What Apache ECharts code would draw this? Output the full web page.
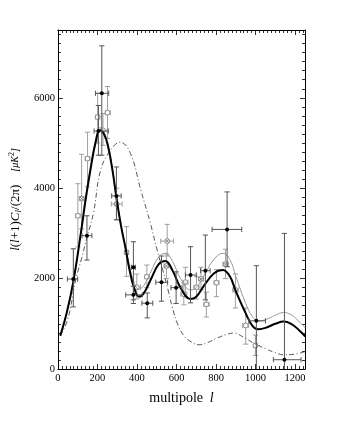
<!DOCTYPE html>
<html><head><meta charset="utf-8">
<script src="https://cdn.jsdelivr.net/npm/echarts@6/dist/echarts.min.js"></script>
<style>html,body{margin:0;padding:0;background:#fff}#c{width:346px;height:448px}</style>
</head><body><div id="c"></div>
<script>
// model curves: [multipole l, value]
const thickCurve = [[12,735],[45,1250],[78,1933],[116,3000],[142,3800],[167,4470],[190,5000],[212,5280],[235,5180],[255,4900],[276,4400],[298,3735],[320,3150],[344,2630],[362,2200],[385,1800],[410,1600],[435,1680],[470,1980],[510,2320],[544,2390],[580,2180],[620,1800],[670,1550],[700,1600],[740,1850],[790,2120],[835,2190],[870,2050],[900,1720],[950,1230],[985,950],[1015,880],[1050,910],[1100,1000],[1142,1050],[1180,1000],[1220,860],[1252,720]];
const thinCurve = [[12,735],[45,1250],[78,1950],[116,3030],[142,3850],[167,4520],[190,5060],[212,5340],[235,5230],[255,4950],[276,4430],[298,3760],[320,3180],[344,2680],[362,2280],[385,1920],[410,1760],[435,1850],[470,2150],[510,2480],[544,2560],[580,2380],[620,2000],[670,1750],[700,1800],[740,2080],[790,2430],[835,2560],[870,2420],[900,2050],[950,1450],[985,1150],[1015,1060],[1050,1090],[1100,1190],[1142,1250],[1180,1200],[1220,1050],[1252,905]];
const dashCurve = [[12,735],[50,1100],[90,1970],[120,2450],[148,2930],[180,3450],[216,4400],[266,4840],[315,5020],[367,4770],[418,3980],[468,3220],[502,2630],[530,2200],[560,1700],[578,1380],[605,1000],[640,720],[675,600],[713,536],[760,590],[805,683],[850,760],[890,795],[940,700],[990,573],[1050,450],[1100,360],[1142,315],[1200,330],[1252,388]];
// data points: [l, value, lLow, lHigh, vLow, vHigh]
const blackPoints = [[78,1990,48,100,1375,2660],[147,2950,122,172,2410,3390],[205,5264,183,255,4730,5830],[222,6100,190,257,4730,7150],[296,3830,272,320,3300,4470],[382,2250,372,392,1530,2815],[382,1640,343,427,1450,1830],[452,1456,425,480,1131,1683],[524,1919,495,555,1500,2500],[598,1800,572,628,1450,2150],[671,2080,645,700,1463,2705],[746,2176,722,770,1530,2963],[856,3088,780,930,2263,3918],[1004,1066,966,1050,0,2285],[1146,205,1090,1230,0,3000]];
const grayPoints = [[101,3390,90,112,2700,4100],[150,4655,138,162,4030,5240],[201,5573,190,212,5000,6100],[228,5280,205,250,4950,5650],[251,5670,240,265,5100,6250],[347,2580,337,357,2050,3150],[399,1810,382,418,1550,2100],[450,2040,440,462,1800,2300],[645,1920,632,658,1600,2250],[637,1654,622,652,1420,1900],[701,1808,688,714,1550,2050],[751,1430,738,765,1150,1700],[802,1910,790,815,1600,2200],[898,1749,885,912,1350,2100],[950,962,935,965,550,1350],[999,521,990,1010,300,750]];
const crossPoints = [[120,3770,108,132,3100,4750],[297,3650,270,325,3300,4000],[553,2830,520,585,2500,3200],[549,2280,537,562,2000,2550],[724,1992,712,737,1750,2250],[848,2320,835,862,2000,2650]];
const xTicks = [0,200,400,600,800,1000,1200];
const yTicks = [0,2000,4000,6000];

const FONT = 'Liberation Serif';
const chart = echarts.init(document.getElementById('c'), null, {renderer:'canvas'});

function errRender(kind){
  return function(params, api){
    const x=api.value(0), y=api.value(1), xl=api.value(2), xh=api.value(3), yl=api.value(4), yh=api.value(5);
    const c=api.coord([x,y]), lo=api.coord([x,yl]), hi=api.coord([x,yh]), L=api.coord([xl,y]), R=api.coord([xh,y]);
    const col = kind==='black' ? '#555' : '#a0a0a0';
    const st = {stroke:col, lineWidth:1};
    const cap=2.6;
    const ch=[
      {type:'line',shape:{x1:lo[0],y1:lo[1],x2:hi[0],y2:hi[1]},style:st},
      {type:'line',shape:{x1:hi[0]-cap,y1:hi[1],x2:hi[0]+cap,y2:hi[1]},style:st},
      {type:'line',shape:{x1:L[0],y1:L[1],x2:R[0],y2:R[1]},style:st},
      {type:'line',shape:{x1:L[0],y1:L[1]-cap,x2:L[0],y2:L[1]+cap},style:st},
      {type:'line',shape:{x1:R[0],y1:R[1]-cap,x2:R[0],y2:R[1]+cap},style:st}
    ];
    if (yl>0) ch.push({type:'line',shape:{x1:lo[0]-cap,y1:lo[1],x2:lo[0]+cap,y2:lo[1]},style:st});
    if (kind==='black') {
      ch.push({type:'circle',shape:{cx:c[0],cy:c[1],r:2},style:{fill:'#000'}});
    } else {
      ch.push({type:'circle',shape:{cx:c[0],cy:c[1],r:2.4},style:{fill:'#fff',stroke:'#888',lineWidth:1}});
      if (kind==='cross') {
        const d=1.7;
        ch.push({type:'line',shape:{x1:c[0]-d,y1:c[1]-d,x2:c[0]+d,y2:c[1]+d},style:{stroke:'#777',lineWidth:0.9}});
        ch.push({type:'line',shape:{x1:c[0]-d,y1:c[1]+d,x2:c[0]+d,y2:c[1]-d},style:{stroke:'#777',lineWidth:0.9}});
      }
    }
    return {type:'group',children:ch};
  };
}

const axisCommon = {
  axisLine:{show:true,onZero:false,lineStyle:{color:'#000',width:1}},
  axisTick:{show:true,inside:true,length:5,lineStyle:{color:'#000',width:0.8}},
  minorTick:{show:true,splitNumber:10,length:3,lineStyle:{color:'#000',width:0.8}},
  splitLine:{show:false}
};

chart.setOption({
  backgroundColor:'#fff',
  animation:false,
  grid:{left:57,right:41,top:30,bottom:79,containLabel:false},
  xAxis:[
    Object.assign({type:'value',min:0,max:1250,interval:200,position:'bottom',
      name:'{a|multipole}  {i|l}',nameLocation:'middle',nameGap:22,
      nameTextStyle:{rich:{a:{fontFamily:FONT,fontSize:14,color:'#000'},i:{fontFamily:FONT,fontSize:14,fontStyle:'italic',color:'#000'}}},
      axisLabel:{fontFamily:FONT,fontSize:10.5,color:'#000',margin:4,showMaxLabel:false,
        formatter:v=>xTicks.indexOf(v)>=0?String(v):''}},axisCommon),
    Object.assign({type:'value',min:0,max:1250,interval:200,position:'top',axisLabel:{show:false}},axisCommon)
  ],
  yAxis:[
    Object.assign({type:'value',min:0,max:7500,interval:2000,position:'left',
      name:'{i|l}({i|l}+1){i|C}{s|l}/(2π)    {i2|[μK}{p|2}{i2|]}',nameLocation:'middle',nameGap:33,
      nameTextStyle:{rich:{
        i:{fontFamily:FONT,fontSize:13,fontStyle:'italic',color:'#000'},
        s:{fontFamily:FONT,fontSize:9,fontStyle:'italic',color:'#000',verticalAlign:'bottom',padding:[6,0,0,0]},
        i2:{fontFamily:FONT,fontSize:10,fontStyle:'italic',color:'#000'},
        p:{fontFamily:FONT,fontSize:8,color:'#000',verticalAlign:'top'}
      },fontFamily:FONT,fontSize:13,color:'#000'},
      axisLabel:{fontFamily:FONT,fontSize:10.5,color:'#000',margin:3,showMaxLabel:false,
        formatter:v=>yTicks.indexOf(v)>=0?String(v):''}},axisCommon),
    Object.assign({type:'value',min:0,max:7500,interval:2000,position:'right',axisLabel:{show:false}},axisCommon)
  ],
  series:[
    {type:'custom',renderItem:errRender('gray'),data:grayPoints,clip:true,z:2},
    {type:'custom',renderItem:errRender('cross'),data:crossPoints,clip:true,z:2},
    {type:'line',data:dashCurve,smooth:0.4,showSymbol:false,symbol:'none',z:3,
      lineStyle:{color:'#444',width:0.9,type:[5,2.5,1,2.5]}},
    {type:'line',data:thinCurve,smooth:0.4,showSymbol:false,symbol:'none',z:3,
      lineStyle:{color:'#999',width:1}},
    {type:'line',data:thickCurve,smooth:0.4,showSymbol:false,symbol:'none',z:4,
      lineStyle:{color:'#000',width:2}},
    {type:'custom',renderItem:errRender('black'),data:blackPoints,clip:true,z:5}
  ]
});
</script></body></html>
